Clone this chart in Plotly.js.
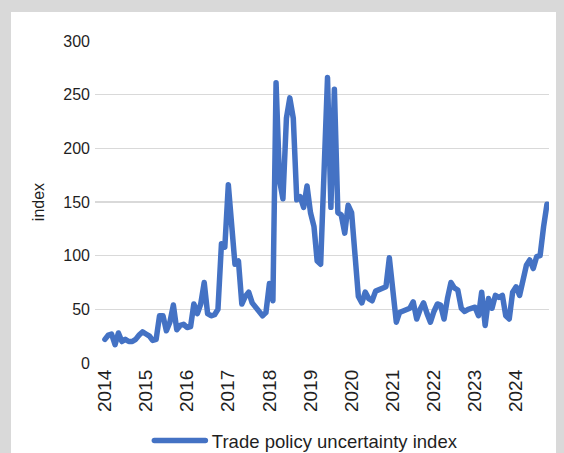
<!DOCTYPE html>
<html>
<head>
<meta charset="utf-8">
<script src="https://cdn.plot.ly/plotly-3.0.1.min.js"></script>
<style>
  html, body { margin: 0; padding: 0; background: #d9d9d9; width: 564px; height: 453px; overflow: hidden; }
  #panel { position: absolute; left: 11px; top: 12px; width: 545px; height: 441px; background: #ffffff; }
  #chart { width: 545px; height: 441px; }
  .scatterlayer path.js-line, .legend path.js-line { stroke-linejoin: round; stroke-linecap: round; }
</style>
</head>
<body>
<div id="panel"><div id="chart"></div></div>
<script>
// Monthly series, Jan 2014 .. Oct 2024
const startYear = 2014;
const seriesName = "Trade policy uncertainty index";
const values = [
  // 2014
  22, 26, 27, 17, 28, 20, 22, 20, 20, 22, 26, 29,
  // 2015
  27, 25, 21, 22, 44, 44, 30, 38, 54, 31, 35, 36,
  // 2016
  33, 34, 55, 46, 55, 75, 46, 44, 45, 50, 111, 108,
  // 2017
  166, 125, 92, 95, 55, 62, 66, 56, 52, 48, 44, 47,
  // 2018
  74, 58, 261, 170, 153, 228, 247, 228, 152, 155, 145, 165,
  // 2019
  140, 127, 95, 92, 175, 266, 145, 255, 140, 138, 121, 147,
  // 2020
  140, 100, 62, 56, 66, 60, 58, 67, 68, 70, 71, 98,
  // 2021
  72, 38, 47, 48, 49, 51, 57, 41, 50, 56, 46, 38,
  // 2022
  48, 55, 54, 41, 60, 75, 70, 68, 51, 48, 50, 51,
  // 2023
  52, 44, 66, 35, 60, 51, 63, 61, 63, 44, 41, 66,
  // 2024
  71, 63, 80, 91, 96, 88, 99, 100, 127, 148
];
const yearLabels = ["2014","2015","2016","2017","2018","2019","2020","2021","2022","2023","2024"];
const yTicks = [0, 50, 100, 150, 200, 250, 300];
const yTitle = "index";

const months = values.map((v, i) => {
  const y = startYear + Math.floor(i / 12);
  const m = (i % 12) + 1;
  return y + "-" + String(m).padStart(2, "0") + "-01";
});
const tickDates = yearLabels.map(y => y + "-01-01");

const fam = "Liberation Sans, Arial, sans-serif";
const txt = "#1f1f1f";

const trace = {
  x: months, y: values, type: "scatter", mode: "lines", name: seriesName,
  line: { color: "#4472C4", width: 5.5 }, showlegend: true
};

const layout = {
  width: 545, height: 441,
  margin: { l: 84, r: 7, t: 29, b: 90, autoexpand: false },
  paper_bgcolor: "#ffffff", plot_bgcolor: "#ffffff",
  font: { family: fam, size: 16, color: txt },
  showlegend: true,
  xaxis: {
    type: "date", range: ["2013-10-05", "2024-10-19"],
    tickmode: "array", tickvals: tickDates, ticktext: yearLabels,
    tickangle: -90, showgrid: false, zeroline: false, showline: false, ticks: "",
    ticklabelstandoff: 2,
    tickfont: { family: fam, size: 19, color: txt }, fixedrange: true
  },
  yaxis: {
    range: [0, 300], tickmode: "array", tickvals: yTicks,
    showgrid: true, gridcolor: "#d9d9d9", gridwidth: 1.5, zeroline: false, showline: false, ticks: "",
    ticklabelstandoff: 4,
    tickfont: { family: fam, size: 16, color: txt },
    title: { text: yTitle, standoff: 14, font: { family: fam, size: 16, color: txt } },
    fixedrange: true
  },
  legend: {
    orientation: "h", x: 0.112, xanchor: "left", y: -0.242, yanchor: "middle",
    itemwidth: 56, font: { family: fam, size: 18.5, color: txt },
    bgcolor: "rgba(0,0,0,0)"
  }
};

Plotly.newPlot("chart", [trace], layout, { staticPlot: true }).then(() => {
  document.querySelectorAll(".legend path.js-line").forEach(p => p.setAttribute("d", "M8.5,0h51"));
});
</script>
</body>
</html>
